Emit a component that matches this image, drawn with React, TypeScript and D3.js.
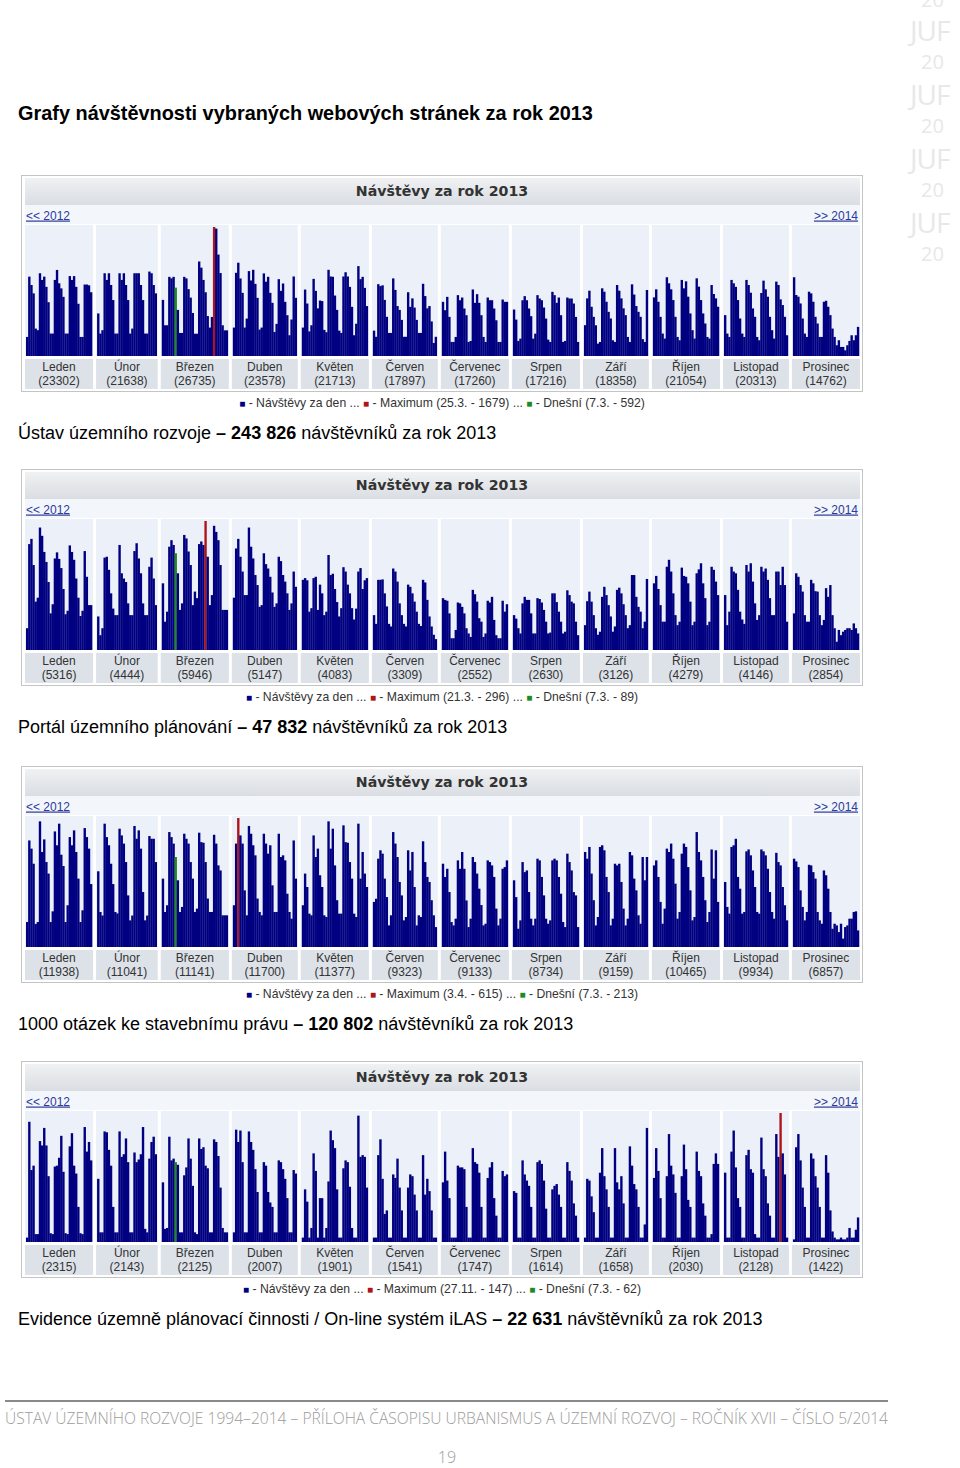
import * as d3 from 'd3'

// ---- data (daily visits per month, 2013) ----

const MONTHS = ['Leden', 'Únor', 'Březen', 'Duben', 'Květen', 'Červen', 'Červenec', 'Srpen', 'Září', 'Říjen', 'Listopad', 'Prosinec']
const DAYS_IN_MONTH = [31, 28, 31, 30, 31, 30, 31, 31, 30, 31, 30, 31]

// Ústav územního rozvoje
const uurDaily = [
  [248, 1033, 924, 815, 357, 336, 1077, 990, 1033, 900, 700, 292, 292, 990, 1120, 946, 880, 770, 292, 292, 1040, 990, 1040, 900, 680, 248, 248, 930, 930, 920, 830],
  [554, 292, 336, 1077, 990, 1077, 924, 728, 292, 292, 1077, 990, 1077, 924, 728, 292, 357, 1077, 1077, 1077, 924, 728, 292, 292, 1099, 1077, 924, 815],
  [730, 400, 400, 1030, 1010, 1030, 890, 600, 300, 300, 1030, 1010, 870, 760, 560, 290, 290, 1230, 1150, 990, 830, 520, 370, 508, 1679, 1658, 1320, 1080, 400, 334, 334],
  [370, 1083, 1214, 1009, 822, 370, 487, 1105, 983, 1122, 939, 757, 344, 370, 1075, 967, 1031, 822, 692, 313, 418, 1000, 848, 944, 705, 531, 270, 475, 1035, 757],
  [370, 865, 683, 320, 400, 1004, 848, 620, 722, 715, 340, 310, 1122, 1035, 1031, 787, 600, 330, 300, 1035, 1090, 1035, 900, 640, 270, 420, 1170, 1000, 1030, 887, 650],
  [330, 250, 935, 910, 920, 730, 510, 300, 300, 1010, 860, 650, 600, 470, 250, 250, 830, 640, 750, 630, 470, 300, 300, 940, 780, 620, 650, 450, 170, 250],
  [705, 596, 770, 509, 183, 183, 248, 792, 726, 761, 618, 531, 183, 196, 866, 692, 805, 692, 531, 248, 183, 761, 726, 726, 618, 465, 183, 183, 735, 705, 705],
  [605, 474, 196, 226, 726, 779, 726, 618, 518, 226, 291, 792, 748, 726, 631, 487, 213, 183, 835, 792, 692, 761, 531, 183, 196, 761, 748, 748, 683, 509, 183],
  [401, 750, 850, 641, 510, 400, 161, 183, 881, 837, 706, 575, 488, 205, 183, 924, 850, 750, 620, 532, 248, 183, 933, 800, 650, 575, 510, 220, 183, 859],
  [763, 868, 706, 510, 292, 227, 1025, 946, 868, 728, 510, 248, 205, 990, 881, 972, 772, 554, 336, 227, 1011, 903, 728, 554, 423, 248, 227, 924, 807, 750, 641],
  [532, 292, 248, 990, 946, 900, 728, 488, 292, 248, 990, 924, 824, 619, 510, 248, 205, 820, 981, 868, 772, 510, 336, 227, 968, 924, 737, 663, 510, 270],
  [1025, 794, 772, 684, 488, 292, 248, 837, 815, 706, 510, 423, 248, 248, 706, 719, 641, 532, 357, 248, 140, 205, 118, 118, 74, 140, 196, 270, 205, 270, 379],
]
const uurTotals = [23302, 21638, 26735, 23578, 21713, 17897, 17260, 17216, 18358, 21054, 20313, 14762]

// Portál územního plánování
const upDaily = [
  [50, 243, 255, 195, 111, 120, 281, 262, 225, 202, 156, 84, 105, 210, 224, 209, 188, 140, 82, 90, 240, 225, 207, 164, 120, 78, 90, 227, 168, 103, 103],
  [77, 34, 50, 212, 214, 184, 130, 95, 80, 80, 241, 176, 164, 156, 107, 80, 80, 227, 245, 210, 176, 107, 80, 80, 191, 212, 164, 103],
  [153, 65, 88, 237, 252, 241, 222, 176, 92, 107, 264, 256, 226, 195, 103, 134, 119, 243, 249, 241, 296, 214, 103, 126, 285, 271, 252, 195, 92, 92, 92],
  [120, 233, 255, 214, 180, 126, 126, 281, 237, 210, 172, 149, 99, 103, 222, 197, 187, 168, 132, 99, 107, 214, 204, 172, 157, 130, 92, 107, 180, 145],
  [161, 165, 160, 88, 96, 165, 168, 92, 150, 130, 80, 88, 218, 172, 175, 140, 110, 77, 96, 190, 180, 150, 130, 96, 70, 95, 180, 188, 140, 160, 165],
  [80, 60, 161, 161, 162, 130, 100, 60, 54, 187, 180, 157, 107, 80, 60, 54, 150, 145, 130, 111, 88, 60, 55, 161, 155, 115, 77, 54, 35, 25],
  [119, 115, 113, 84, 27, 27, 46, 109, 107, 99, 84, 50, 38, 30, 138, 128, 111, 73, 65, 30, 38, 113, 109, 122, 69, 34, 27, 27, 113, 88, 105],
  [80, 72, 50, 38, 107, 122, 115, 115, 84, 38, 38, 119, 117, 109, 92, 65, 38, 40, 130, 130, 110, 88, 65, 38, 42, 137, 126, 111, 107, 65, 34],
  [57, 112, 134, 111, 80, 50, 35, 42, 122, 145, 126, 103, 77, 42, 54, 138, 143, 130, 105, 80, 50, 57, 172, 172, 122, 99, 88, 50, 65, 163],
  [153, 170, 140, 103, 65, 65, 191, 207, 180, 130, 80, 57, 65, 189, 170, 168, 153, 111, 57, 65, 176, 185, 199, 153, 119, 57, 65, 191, 184, 157, 126],
  [126, 57, 88, 191, 180, 176, 138, 88, 70, 60, 195, 180, 199, 157, 107, 69, 80, 191, 180, 187, 161, 119, 80, 80, 180, 180, 149, 191, 149, 65],
  [84, 176, 168, 149, 134, 80, 65, 65, 161, 153, 135, 134, 80, 57, 69, 142, 122, 149, 80, 50, 19, 46, 34, 42, 46, 50, 50, 46, 61, 50, 38],
]
const upTotals = [5316, 4444, 5946, 5147, 4083, 3309, 2552, 2630, 3126, 4279, 4146, 2854]

// 1000 otázek ke stavebnímu právu
const otazkyDaily = [
  [119, 508, 469, 397, 110, 119, 599, 453, 513, 405, 350, 119, 170, 551, 485, 588, 440, 386, 119, 199, 524, 485, 556, 453, 326, 119, 175, 567, 524, 469, 300],
  [361, 167, 150, 588, 524, 485, 397, 300, 167, 160, 564, 532, 493, 405, 246, 127, 150, 577, 516, 556, 469, 262, 127, 150, 529, 516, 516, 405],
  [326, 167, 199, 548, 524, 493, 429, 318, 167, 191, 540, 516, 493, 405, 326, 167, 183, 545, 500, 497, 405, 231, 167, 167, 535, 493, 389, 365, 151, 151, 151],
  [199, 493, 615, 532, 493, 270, 151, 577, 540, 485, 437, 231, 167, 151, 540, 493, 445, 485, 294, 167, 167, 540, 429, 437, 413, 254, 167, 135, 508, 326],
  [199, 350, 286, 159, 151, 532, 429, 469, 342, 286, 151, 143, 599, 469, 564, 389, 223, 159, 159, 580, 500, 497, 405, 326, 159, 143, 588, 326, 453, 350, 286],
  [215, 230, 421, 461, 445, 326, 238, 103, 151, 548, 493, 429, 310, 246, 127, 143, 461, 365, 453, 286, 103, 151, 143, 504, 405, 334, 310, 223, 151, 95],
  [397, 334, 373, 262, 119, 103, 135, 413, 373, 453, 373, 222, 95, 135, 429, 405, 350, 278, 200, 103, 111, 413, 405, 389, 334, 183, 103, 135, 373, 381, 413],
  [318, 238, 87, 127, 405, 357, 365, 262, 135, 103, 135, 421, 413, 334, 246, 135, 111, 127, 413, 421, 413, 334, 254, 119, 95, 445, 405, 365, 262, 246, 95],
  [453, 421, 477, 350, 223, 103, 143, 477, 485, 461, 334, 262, 103, 135, 397, 389, 397, 310, 183, 103, 135, 453, 437, 326, 270, 151, 111, 429, 318, 429],
  [389, 413, 334, 215, 111, 183, 469, 453, 493, 421, 302, 135, 167, 445, 493, 477, 381, 270, 127, 143, 548, 453, 413, 334, 223, 119, 167, 465, 326, 461, 215],
  [310, 191, 159, 477, 485, 516, 334, 278, 159, 167, 456, 465, 437, 365, 286, 167, 159, 465, 456, 437, 373, 262, 167, 135, 449, 405, 389, 286, 199, 127],
  [421, 408, 381, 270, 191, 127, 167, 392, 389, 357, 326, 167, 127, 111, 365, 342, 278, 167, 87, 111, 103, 71, 111, 40, 95, 103, 135, 135, 167, 170, 79],
]
const otazkyTotals = [11938, 11041, 11141, 11700, 11377, 9323, 9133, 8734, 9159, 10465, 9934, 6857]

// iLAS
const ilasDaily = [
  [5, 137, 82, 87, 9, 9, 115, 110, 130, 110, 75, 10, 9, 86, 87, 96, 121, 80, 10, 9, 109, 124, 87, 78, 40, 10, 9, 131, 103, 114, 93],
  [72, 11, 11, 126, 125, 105, 87, 40, 11, 11, 126, 97, 100, 118, 91, 11, 11, 102, 91, 94, 100, 131, 15, 11, 95, 114, 120, 100],
  [68, 15, 16, 120, 93, 95, 91, 88, 11, 11, 76, 85, 118, 95, 64, 11, 9, 118, 106, 108, 87, 84, 11, 11, 117, 114, 98, 62, 16, 11, 11],
  [11, 128, 114, 127, 91, 11, 11, 126, 114, 105, 83, 57, 11, 11, 91, 87, 57, 45, 40, 11, 11, 93, 91, 83, 72, 50, 11, 11, 82, 78],
  [5, 60, 46, 5, 16, 101, 81, 5, 50, 50, 5, 16, 69, 127, 116, 107, 60, 5, 5, 84, 93, 91, 63, 16, 5, 5, 144, 97, 99, 97, 62],
  [5, 5, 99, 117, 72, 32, 36, 5, 5, 77, 73, 95, 62, 36, 5, 5, 62, 77, 75, 54, 36, 5, 5, 99, 54, 72, 58, 36, 5, 5],
  [68, 103, 70, 50, 5, 5, 5, 87, 85, 85, 83, 40, 5, 5, 107, 91, 89, 79, 40, 5, 5, 73, 85, 91, 50, 30, 5, 5, 81, 75, 77],
  [58, 56, 5, 5, 93, 77, 70, 64, 40, 5, 5, 91, 93, 89, 70, 38, 5, 5, 60, 64, 66, 54, 40, 5, 5, 91, 81, 70, 44, 30, 5],
  [5, 72, 70, 52, 34, 5, 5, 79, 107, 75, 60, 40, 5, 5, 107, 68, 60, 75, 44, 5, 5, 109, 87, 66, 60, 40, 5, 5, 20, 130],
  [73, 107, 81, 50, 5, 5, 75, 123, 87, 77, 56, 5, 5, 75, 111, 83, 48, 40, 5, 5, 103, 81, 75, 44, 30, 5, 5, 9, 89, 101, 89],
  [79, 5, 5, 103, 127, 85, 50, 40, 5, 5, 99, 105, 83, 79, 9, 5, 5, 119, 83, 75, 44, 30, 5, 5, 123, 97, 147, 101, 77, 5],
  [3, 108, 123, 93, 62, 40, 5, 5, 101, 95, 75, 62, 40, 5, 5, 99, 79, 36, 12, 5, 3, 3, 5, 3, 3, 5, 16, 5, 5, 14, 28],
]
const ilasTotals = [2315, 2143, 2125, 2007, 1901, 1541, 1747, 1614, 1658, 2030, 2128, 1422]

const maxLabels = ['Maximum (25.3. - 1679)', 'Maximum (21.3. - 296)', 'Maximum (3.4. - 615)', 'Maximum (27.11. - 147)']
const todayLabels = ['Dnešní (7.3. - 592)', 'Dnešní (7.3. - 89)', 'Dnešní (7.3. - 213)', 'Dnešní (7.3. - 62)']
const captionNames = [
  'Ústav územního rozvoje',
  'Portál územního plánování',
  '1000 otázek ke stavebnímu právu',
  'Evidence územně plánovací činnosti / On-line systém iLAS',
]
const captionTotals = ['243 826', '47 832', '120 802', '22 631']

// "today" marker = 7.3.
const TODAY_MONTH = 2
const TODAY_DAY = 7

const sites = [
  { daily: uurDaily, totals: uurTotals },
  { daily: upDaily, totals: upTotals },
  { daily: otazkyDaily, totals: otazkyTotals },
  { daily: ilasDaily, totals: ilasTotals },
]

// ---- layout ----
const CHART_TOPS = [175, 469, 766, 1061]
const BOX_L = 21
const BOX_R = 863
const INNER_L = 25
const INNER_R = 860
const GAP = 3
const PAD = 1
const DAY_W = (INNER_R - INNER_L - 11 * GAP - 24 * PAD) / d3.sum(DAYS_IN_MONTH)

const NAVY = '#000080'
const RED = '#b0141a'
const GREEN = '#1f8a1f'
const SANS = '"Liberation Sans", Arial, sans-serif'

// month column left edges
const colStarts: number[] = []
DAYS_IN_MONTH.reduce((x, n) => {
  colStarts.push(x)
  return x + n * DAY_W + 2 * PAD + GAP
}, INNER_L)

function VisitChart({ index }: { index: number }) {
  const T = CHART_TOPS[index]
  const { daily, totals } = sites[index]
  const plotBottom = T + 181
  const plotTop = T + 52
  const max = d3.max(daily.flat()) as number
  const y = d3.scaleLinear().domain([0, max]).range([plotBottom, plotTop])

  // locate maximum day
  let maxM = 0
  let maxD = 0
  daily.forEach((m, mi) => m.forEach((v, di) => {
    if (v > daily[maxM][maxD]) { maxM = mi; maxD = di }
  }))

  const cx = (BOX_L + BOX_R) / 2

  return (
    <g>
      <rect x={BOX_L + 0.5} y={T + 0.5} width={BOX_R - BOX_L - 1} height={216} fill="#fff" stroke="#c4c4c4" />
      <rect x={INNER_L} y={T + 3} width={INNER_R - INNER_L} height={27} fill="url(#hdr)" />
      <text x={cx} y={T + 21} textAnchor="middle" fontFamily='"DejaVu Sans", Tahoma, sans-serif' fontWeight="bold" fontSize={14.2} fill="#333">
        Návštěvy za rok 2013
      </text>
      <rect x={INNER_L} y={T + 30} width={INNER_R - INNER_L} height={19} fill="#f3f6fb" />
      <text x={INNER_L + 1} y={T + 44.5} fontFamily={SANS} fontSize={12} fill="#2b3a9c" textDecoration="underline">
        {'<< 2012'}
      </text>
      <text x={INNER_R - 2} y={T + 44.5} textAnchor="end" fontFamily={SANS} fontSize={12} fill="#2b3a9c" textDecoration="underline">
        {'>> 2014'}
      </text>

      {daily.map((days, mi) => {
        const x0 = colStarts[mi]
        const w = days.length * DAY_W + 2 * PAD
        const x = d3.scaleLinear().domain([0, days.length]).range([x0 + PAD, x0 + PAD + days.length * DAY_W])
        return (
          <g key={mi}>
            <rect x={x0} y={T + 50} width={w} height={131} fill="#ebf0f9" />
            {days.map((v, di) => {
              let fill = NAVY
              if (mi === maxM && di === maxD) fill = RED
              else if (mi === TODAY_MONTH && di === TODAY_DAY - 1) fill = GREEN
              return (
                <rect
                  key={di}
                  x={x(di)}
                  y={y(v)}
                  width={DAY_W + 0.25}
                  height={plotBottom - y(v)}
                  fill={fill}
                />
              )
            })}
            <rect x={x0} y={T + 184} width={w} height={30} fill="#dde2e9" />
            <text x={x0 + w / 2} y={T + 196} textAnchor="middle" fontFamily={SANS} fontSize={12} fill="#333">
              {MONTHS[mi]}
            </text>
            <text x={x0 + w / 2} y={T + 210} textAnchor="middle" fontFamily={SANS} fontSize={12} fill="#333">
              {`(${totals[mi]})`}
            </text>
          </g>
        )
      })}

      <text x={cx} y={T + 232} textAnchor="middle" fontFamily={SANS} fontSize={12.2} fill="#333">
        <tspan fill={NAVY} fontSize={10}>■</tspan>
        <tspan>{' - Návštěvy za den ... '}</tspan>
        <tspan fill={RED} fontSize={10}>■</tspan>
        <tspan>{` - ${maxLabels[index]} ... `}</tspan>
        <tspan fill={GREEN} fontSize={10}>■</tspan>
        <tspan>{` - ${todayLabels[index]}`}</tspan>
      </text>

      <text x={18} y={T + 264} fontFamily={SANS} fontSize={18} fill="#000">
        <tspan>{`${captionNames[index]} `}</tspan>
        <tspan fontWeight="bold">{`– ${captionTotals[index]}`}</tspan>
        <tspan>{' návštěvníků za rok 2013'}</tspan>
      </text>
    </g>
  )
}

function Watermark() {
  const rows = [0, 1, 2, 3]
  return (
    <g fill="#e8e8e8" fontFamily='"Open Sans", sans-serif'>
      <text x={921} y={7} fontSize={20}>20</text>
      {rows.map(r => (
        <g key={r}>
          <text x={910} y={41 + r * 64} fontSize={28} letterSpacing={-1}>JUF</text>
          <text x={921} y={69 + r * 64} fontSize={20}>20</text>
        </g>
      ))}
    </g>
  )
}

export default function App() {
  return (
    <svg
      width={960}
      height={1468}
      viewBox="0 0 960 1468"
      style={{ position: 'absolute', left: 0, top: 0, display: 'block', background: '#fff' }}
    >
      <defs>
        <linearGradient id="hdr" x1="0" y1="0" x2="0" y2="1">
          <stop offset="0" stopColor="#eff1f3" />
          <stop offset="1" stopColor="#dadde2" />
        </linearGradient>
      </defs>
      <rect width={960} height={1468} fill="#fff" />
      <Watermark />
      <text x={18} y={120} fontFamily={SANS} fontWeight="bold" fontSize={19.9} fill="#000">
        Grafy návštěvnosti vybraných webových stránek za rok 2013
      </text>
      {CHART_TOPS.map((_, i) => <VisitChart key={i} index={i} />)}
      <line x1={5} x2={888} y1={1401} y2={1401} stroke="#8a8a8a" strokeWidth={2} />
      <text x={5} y={1424} fontFamily='"Open Sans", sans-serif' fontWeight={300} fontSize={16} fill="#9c9c9c" textLength={883} lengthAdjust="spacingAndGlyphs">
        ÚSTAV ÚZEMNÍHO ROZVOJE 1994–2014 – PŘÍLOHA ČASOPISU URBANISMUS A ÚZEMNÍ ROZVOJ – ROČNÍK XVII – ČÍSLO 5/2014
      </text>
      <text x={447} y={1463} textAnchor="middle" fontFamily='"Open Sans", sans-serif' fontWeight={300} fontSize={16} fill="#9c9c9c">
        19
      </text>
    </svg>
  )
}
